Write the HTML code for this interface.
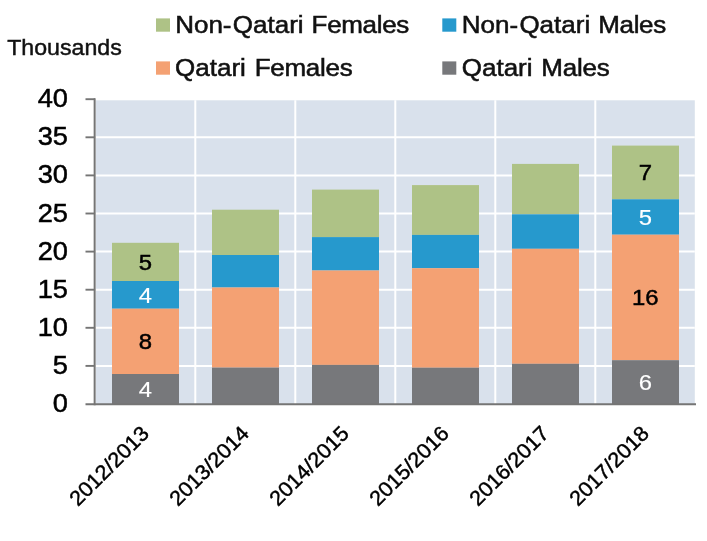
<!DOCTYPE html><html><head><meta charset="utf-8"><title>Chart</title>
<style>html,body{margin:0;padding:0;background:#fff}svg{display:block}text{font-family:"Liberation Sans",Arial,sans-serif}</style></head><body>
<svg width="707" height="541" viewBox="0 0 707 541">
<rect width="707" height="541" fill="#fff"/>
<rect x="96" y="100.3" width="598.8" height="303.7" fill="#D9E1EC"/>
<line x1="96" x2="694.8" y1="365.9" y2="365.9" stroke="#fff" stroke-width="2"/>
<line x1="96" x2="694.8" y1="327.8" y2="327.8" stroke="#fff" stroke-width="2"/>
<line x1="96" x2="694.8" y1="289.7" y2="289.7" stroke="#fff" stroke-width="2"/>
<line x1="96" x2="694.8" y1="251.6" y2="251.6" stroke="#fff" stroke-width="2"/>
<line x1="96" x2="694.8" y1="213.5" y2="213.5" stroke="#fff" stroke-width="2"/>
<line x1="96" x2="694.8" y1="175.4" y2="175.4" stroke="#fff" stroke-width="2"/>
<line x1="96" x2="694.8" y1="137.3" y2="137.3" stroke="#fff" stroke-width="2"/>
<line x1="195.3" x2="195.3" y1="100.3" y2="404" stroke="#fff" stroke-width="2"/>
<line x1="295.3" x2="295.3" y1="100.3" y2="404" stroke="#fff" stroke-width="2"/>
<line x1="395.3" x2="395.3" y1="100.3" y2="404" stroke="#fff" stroke-width="2"/>
<line x1="495.3" x2="495.3" y1="100.3" y2="404" stroke="#fff" stroke-width="2"/>
<line x1="595.3" x2="595.3" y1="100.3" y2="404" stroke="#fff" stroke-width="2"/>
<rect x="112" y="242.8" width="67" height="38.2" fill="#AEC286"/>
<rect x="112" y="281.0" width="67" height="27.7" fill="#2699CD"/>
<rect x="112" y="308.7" width="67" height="65.3" fill="#F4A173"/>
<rect x="112" y="374.0" width="67" height="30.0" fill="#77787B"/>
<rect x="212" y="209.7" width="67" height="45.3" fill="#AEC286"/>
<rect x="212" y="255.0" width="67" height="32.5" fill="#2699CD"/>
<rect x="212" y="287.5" width="67" height="80.1" fill="#F4A173"/>
<rect x="212" y="367.6" width="67" height="36.4" fill="#77787B"/>
<rect x="312" y="189.6" width="67" height="47.5" fill="#AEC286"/>
<rect x="312" y="237.1" width="67" height="33.4" fill="#2699CD"/>
<rect x="312" y="270.5" width="67" height="94.4" fill="#F4A173"/>
<rect x="312" y="364.9" width="67" height="39.1" fill="#77787B"/>
<rect x="412" y="185.1" width="67" height="49.8" fill="#AEC286"/>
<rect x="412" y="234.9" width="67" height="33.3" fill="#2699CD"/>
<rect x="412" y="268.2" width="67" height="99.5" fill="#F4A173"/>
<rect x="412" y="367.7" width="67" height="36.3" fill="#77787B"/>
<rect x="512" y="163.9" width="67" height="50.4" fill="#AEC286"/>
<rect x="512" y="214.3" width="67" height="34.5" fill="#2699CD"/>
<rect x="512" y="248.8" width="67" height="115.0" fill="#F4A173"/>
<rect x="512" y="363.8" width="67" height="40.2" fill="#77787B"/>
<rect x="612" y="145.6" width="67" height="53.7" fill="#AEC286"/>
<rect x="612" y="199.3" width="67" height="35.4" fill="#2699CD"/>
<rect x="612" y="234.7" width="67" height="125.5" fill="#F4A173"/>
<rect x="612" y="360.2" width="67" height="43.8" fill="#77787B"/>
<line x1="94.65" x2="94.65" y1="98.2" y2="405.2" stroke="#757575" stroke-width="2"/>
<line x1="85.5" x2="696" y1="404.2" y2="404.2" stroke="#757575" stroke-width="2"/>
<line x1="85.5" x2="95" y1="365.9" y2="365.9" stroke="#757575" stroke-width="1.9"/>
<line x1="85.5" x2="95" y1="327.8" y2="327.8" stroke="#757575" stroke-width="1.9"/>
<line x1="85.5" x2="95" y1="289.7" y2="289.7" stroke="#757575" stroke-width="1.9"/>
<line x1="85.5" x2="95" y1="251.6" y2="251.6" stroke="#757575" stroke-width="1.9"/>
<line x1="85.5" x2="95" y1="213.5" y2="213.5" stroke="#757575" stroke-width="1.9"/>
<line x1="85.5" x2="95" y1="175.4" y2="175.4" stroke="#757575" stroke-width="1.9"/>
<line x1="85.5" x2="95" y1="137.3" y2="137.3" stroke="#757575" stroke-width="1.9"/>
<line x1="85.5" x2="95" y1="99.2" y2="99.2" stroke="#757575" stroke-width="1.9"/>
<text transform="translate(68,412.0) scale(1.08,1)" font-size="25.2" text-anchor="end" fill="#000" stroke="#000" stroke-width="0.5">0</text>
<text transform="translate(68,373.9) scale(1.08,1)" font-size="25.2" text-anchor="end" fill="#000" stroke="#000" stroke-width="0.5">5</text>
<text transform="translate(68,335.8) scale(1.08,1)" font-size="25.2" text-anchor="end" fill="#000" stroke="#000" stroke-width="0.5">10</text>
<text transform="translate(68,297.7) scale(1.08,1)" font-size="25.2" text-anchor="end" fill="#000" stroke="#000" stroke-width="0.5">15</text>
<text transform="translate(68,259.6) scale(1.08,1)" font-size="25.2" text-anchor="end" fill="#000" stroke="#000" stroke-width="0.5">20</text>
<text transform="translate(68,221.5) scale(1.08,1)" font-size="25.2" text-anchor="end" fill="#000" stroke="#000" stroke-width="0.5">25</text>
<text transform="translate(68,183.4) scale(1.08,1)" font-size="25.2" text-anchor="end" fill="#000" stroke="#000" stroke-width="0.5">30</text>
<text transform="translate(68,145.3) scale(1.08,1)" font-size="25.2" text-anchor="end" fill="#000" stroke="#000" stroke-width="0.5">35</text>
<text transform="translate(68,107.2) scale(1.08,1)" font-size="25.2" text-anchor="end" fill="#000" stroke="#000" stroke-width="0.5">40</text>
<text transform="translate(145.3,269.9) scale(1.07,1)" font-size="22.3" text-anchor="middle" fill="#000" stroke="#000" stroke-width="0.5">5</text>
<text transform="translate(145.3,302.9) scale(1.07,1)" font-size="22.3" text-anchor="middle" fill="#fff" stroke="#fff" stroke-width="0.15">4</text>
<text transform="translate(145.3,349.4) scale(1.07,1)" font-size="22.3" text-anchor="middle" fill="#000" stroke="#000" stroke-width="0.5">8</text>
<text transform="translate(145.3,397.0) scale(1.07,1)" font-size="22.3" text-anchor="middle" fill="#fff" stroke="#fff" stroke-width="0.15">4</text>
<text transform="translate(645.3,180.4) scale(1.07,1)" font-size="22.3" text-anchor="middle" fill="#000" stroke="#000" stroke-width="0.5">7</text>
<text transform="translate(645.3,225.0) scale(1.07,1)" font-size="22.3" text-anchor="middle" fill="#fff" stroke="#fff" stroke-width="0.15">5</text>
<text transform="translate(645.3,305.4) scale(1.07,1)" font-size="22.3" text-anchor="middle" fill="#000" stroke="#000" stroke-width="0.5">16</text>
<text transform="translate(645.3,390.1) scale(1.07,1)" font-size="22.3" text-anchor="middle" fill="#fff" stroke="#fff" stroke-width="0.15">6</text>
<text transform="translate(150.3,434.8) rotate(-45) scale(1.03,1)" font-size="21" text-anchor="end" fill="#000" stroke="#000" stroke-width="0.45">2012/2013</text>
<text transform="translate(250.3,434.8) rotate(-45) scale(1.03,1)" font-size="21" text-anchor="end" fill="#000" stroke="#000" stroke-width="0.45">2013/2014</text>
<text transform="translate(350.3,434.8) rotate(-45) scale(1.03,1)" font-size="21" text-anchor="end" fill="#000" stroke="#000" stroke-width="0.45">2014/2015</text>
<text transform="translate(450.3,434.8) rotate(-45) scale(1.03,1)" font-size="21" text-anchor="end" fill="#000" stroke="#000" stroke-width="0.45">2015/2016</text>
<text transform="translate(550.3,434.8) rotate(-45) scale(1.03,1)" font-size="21" text-anchor="end" fill="#000" stroke="#000" stroke-width="0.45">2016/2017</text>
<text transform="translate(650.3,434.8) rotate(-45) scale(1.03,1)" font-size="21" text-anchor="end" fill="#000" stroke="#000" stroke-width="0.45">2017/2018</text>
<text transform="translate(7.2,55.3) scale(1.03,1)" font-size="22.5" fill="#111" stroke="#111" stroke-width="0.45">Thousands</text>
<rect x="156" y="18.4" width="14" height="13.3" fill="#AEC286"/>
<text transform="translate(175.2,32.6) scale(1.048,1)" font-size="24.8" fill="#111" stroke="#111" stroke-width="0.55" xml:space="preserve"><tspan dx="0.00" letter-spacing="0">Non-</tspan><tspan dx="1.24" letter-spacing="0">Qatari </tspan><tspan dx="0.76" letter-spacing="-0.3">Females</tspan></text>
<rect x="156" y="61.4" width="14" height="13.3" fill="#F4A173"/>
<text transform="translate(175.1,75.6) scale(1.048,1)" font-size="24.8" fill="#111" stroke="#111" stroke-width="0.55" xml:space="preserve"><tspan dx="0.00" letter-spacing="0">Qatari </tspan><tspan dx="1.53" letter-spacing="-0.25">Females</tspan></text>
<rect x="442.3" y="18.4" width="14" height="13.3" fill="#2699CD"/>
<text transform="translate(461.8,32.6) scale(1.048,1)" font-size="24.8" fill="#111" stroke="#111" stroke-width="0.55" xml:space="preserve"><tspan dx="0.00" letter-spacing="0">Non-</tspan><tspan dx="1.24" letter-spacing="0">Qatari </tspan><tspan dx="0.76" letter-spacing="-0.3">Males</tspan></text>
<rect x="442.3" y="61.4" width="14" height="13.3" fill="#77787B"/>
<text transform="translate(461.8,75.6) scale(1.048,1)" font-size="24.8" fill="#111" stroke="#111" stroke-width="0.55" xml:space="preserve"><tspan dx="0.00" letter-spacing="0">Qatari </tspan><tspan dx="1.53" letter-spacing="-0.25">Males</tspan></text>
</svg></body></html>
